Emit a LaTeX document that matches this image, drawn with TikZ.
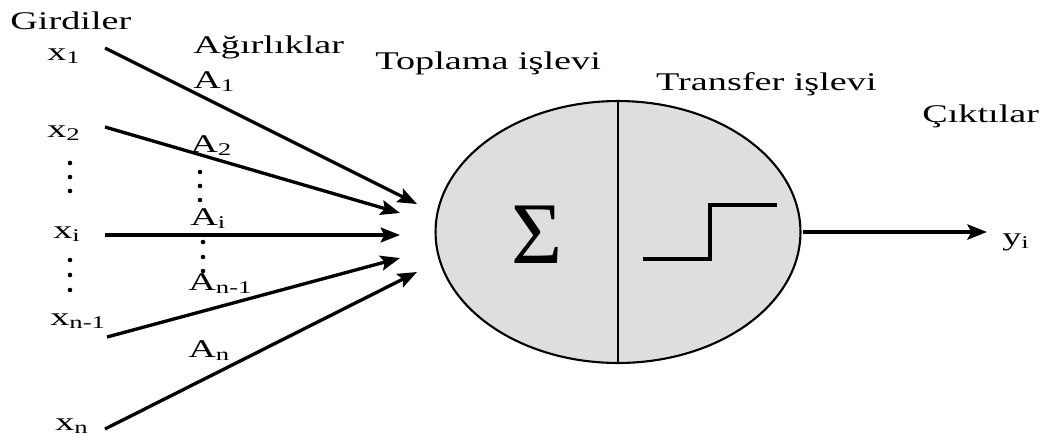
\documentclass[tikz,border=0pt]{standalone}
\usepackage{fontspec}
\setmainfont{Liberation Serif}[FakeStretch=1.5]
\newfontfamily\sigmafont{Liberation Serif}
\usetikzlibrary{arrows.meta,shapes.geometric}
\definecolor{cellgray}{gray}{0.87}
\tikzset{
  lbl/.style={anchor=base west,inner sep=0pt,font=\fontsize{14.5}{17}\selectfont},
  wire/.style={line width=1.9pt,-{Stealth[length=11pt,width=8.5pt,inset=2pt]}}
}
\begin{document}
\begin{tikzpicture}[x=0.02cm,y=-0.02cm]
  \useasboundingbox (0,0) rectangle (1048,437);
  % titles
  \node[lbl] (girdi) at (10,29) {Girdiler};
  \node[lbl] (agirlik) at (193,53) {Ağırlıklar};
  \node[lbl] (toplama) at (375,69) {Toplama işlevi};
  \node[lbl,anchor=base east] (transfer) at (877,90) {Transfer işlevi};
  \node[lbl] (cikti) at (922,122) {Çıktılar};
  % inputs and weights
  \node[lbl] (x1) at (47,60) {x\textsubscript{1}};
  \node[lbl] (x2) at (47,137) {x\textsubscript{2}};
  \node[lbl] (xi) at (53,238) {x\textsubscript{i}};
  \node[lbl] (xm) at (50,325) {x\textsubscript{n-1}};
  \node[lbl] (xn) at (55,430) {x\textsubscript{n}};
  \node[lbl] (a1) at (193,88) {A\textsubscript{1}};
  \node[lbl] (a2) at (190,152) {A\textsubscript{2}};
  \node[lbl] (ai) at (190,225) {A\textsubscript{i}};
  \node[lbl] (am) at (188,290) {A\textsubscript{n-1}};
  \node[lbl] (an) at (188,357) {A\textsubscript{n}};
  \foreach \yy in {163,177,191} \fill (70,\yy) circle (1.3pt);
  \foreach \yy in {260,275,290} \fill (70,\yy) circle (1.3pt);
  \foreach \yy in {172,186,200} \fill (200,\yy) circle (1.3pt);
  \foreach \yy in {242,257,271} \fill (203,\yy) circle (1.3pt);
  % neuron
  \node[ellipse,draw,line width=1.2pt,fill=cellgray,minimum width=7.3cm,
        minimum height=5.24cm,inner sep=0pt] (neuron) at (618,232) {};
  \draw[line width=0.7pt] (neuron.north) -- (neuron.south);
  \node[inner sep=0pt,font=\sigmafont\fontsize{50}{50}\selectfont] (sum) at (537,235) {Σ};
  \draw[line width=2.3pt] (643,259) -- (710,259) -- (710,205) -- (777,205);
  % connectors
  \coordinate (s1) at (105,48);  \coordinate (t1) at (417,204);
  \coordinate (s2) at (105,127); \coordinate (t2) at (400,213);
  \coordinate (si) at (105,235); \coordinate (ti) at (400,235);
  \coordinate (sm) at (107,337); \coordinate (tm) at (400,258);
  \coordinate (sn) at (105,429); \coordinate (tn) at (417,272);
  \draw[wire] (s1) -- (t1);
  \draw[wire] (s2) -- (t2);
  \draw[wire] (si) -- (ti);
  \draw[wire] (sm) -- (tm);
  \draw[wire] (sn) -- (tn);
  \node[lbl] (yi) at (1002,245) {y\textsubscript{i}};
  \coordinate (yend) at (987,232);
  \draw[wire,line width=2.3pt] ([xshift=1pt]neuron.east) -- (yend);
\end{tikzpicture}
\end{document}
